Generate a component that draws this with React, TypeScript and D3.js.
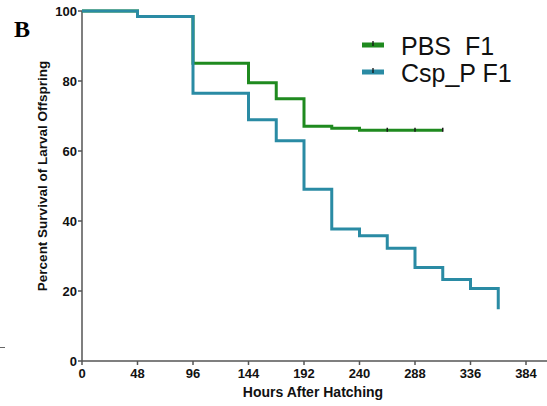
import React from "react";
import * as d3 from "d3";

const xTicks = [0, 48, 96, 144, 192, 240, 288, 336, 384];
const yTicks = [0, 20, 40, 60, 80, 100];

const cspTimes = [0, 48, 96, 144, 168, 192, 216, 240, 264, 288, 312, 336, 360];
const cspSurv = [100, 98.4, 76.5, 68.9, 62.9, 49.1, 37.7, 35.8, 32.2, 26.7, 23.3, 20.7, 14.8];

const pbsTimes = [0, 48, 96, 144, 168, 192, 216, 240];
const pbsSurv = [100, 98.4, 85.1, 79.5, 74.9, 67.1, 66.5, 65.9];
const pbsEnd = 312;
const pbsCensor = [264, 288, 312];

const seriesNames = ["PBS\u00a0\u00a0F1", "Csp_P F1"];
const seriesColors = ["#1f8a1f", "#2a8ba4"];

const W = 547;
const H = 406;

export default function App() {
  const x = d3.scaleLinear().domain([0, 384]).range([82, 526]);
  const y = d3.scaleLinear().domain([0, 100]).range([361, 11]);

  const stepPts = (times: number[], surv: number[], end: number | null) => {
    const pts: [number, number][] = times.map((t, i) => [t, surv[i]]);
    if (end !== null) pts.push([end, surv[surv.length - 1]]);
    return pts;
  };
  const line = d3
    .line<[number, number]>()
    .x((d) => x(d[0]))
    .y((d) => y(d[1]))
    .curve(d3.curveStepAfter);

  const pbsPath = line(stepPts(pbsTimes, pbsSurv, pbsEnd)) || "";
  const cspPath = line(stepPts(cspTimes, cspSurv, null)) || "";

  const font = "'Liberation Sans', Arial, sans-serif";
  const axisColor = "#555";

  return (
    <svg width={W} height={H} style={{ position: "absolute", left: 0, top: 0, background: "#fff" }}>
      <rect x={0} y={0} width={W} height={H} fill="#fff" />
      <text x={14} y={37} fontFamily="'Liberation Serif', 'Times New Roman', serif" fontWeight="bold" fontSize={24}>
        B
      </text>
      <line x1={0} x2={5} y1={347.5} y2={347.5} stroke="#666" strokeWidth={1} />

      {/* axes */}
      <line x1={x(0)} x2={x(0)} y1={y(100)} y2={y(0)} stroke={axisColor} strokeWidth={1.5} />
      <line x1={x(0)} x2={W} y1={y(0)} y2={y(0)} stroke={axisColor} strokeWidth={1.5} />
      {yTicks.map((t) => (
        <g key={"y" + t}>
          <line x1={x(0) - 4} x2={x(0)} y1={y(t)} y2={y(t)} stroke={axisColor} strokeWidth={1.5} />
          <text
            x={x(0) - 5}
            y={y(t)}
            dy="0.35em"
            textAnchor="end"
            fontFamily={font}
            fontWeight="bold"
            fontSize={13}
            fill="#111"
          >
            {t}
          </text>
        </g>
      ))}
      {xTicks.map((t) => (
        <g key={"x" + t}>
          <line x1={x(t)} x2={x(t)} y1={y(0)} y2={y(0) + 4} stroke={axisColor} strokeWidth={1.5} />
          <text
            x={x(t)}
            y={y(0) + 17}
            textAnchor="middle"
            fontFamily={font}
            fontWeight="bold"
            fontSize={13}
            fill="#111"
          >
            {t}
          </text>
        </g>
      ))}
      <text x={313} y={397} textAnchor="middle" fontFamily={font} fontWeight="bold" fontSize={14} fill="#111">
        Hours After Hatching
      </text>
      <text
        transform="translate(47,176) rotate(-90)"
        textAnchor="middle"
        fontFamily={font}
        fontWeight="bold"
        fontSize={13.5}
        fill="#111"
      >
        Percent Survival of Larval Offspring
      </text>

      {/* curves */}
      <path d={pbsPath} fill="none" stroke={seriesColors[0]} strokeWidth={3} />
      {pbsCensor.map((t) => (
        <line
          key={"c" + t}
          x1={x(t)}
          x2={x(t)}
          y1={y(pbsSurv[pbsSurv.length - 1]) - 2.5}
          y2={y(pbsSurv[pbsSurv.length - 1]) + 1.5}
          stroke="#1a1a1a"
          strokeWidth={1.5}
        />
      ))}
      <path d={cspPath} fill="none" stroke={seriesColors[1]} strokeWidth={3} />

      {/* legend */}
      {seriesNames.map((n, i) => (
        <g key={n}>
          <rect x={362} y={42.5 + i * 27} width={22} height={5} fill={seriesColors[i]} />
          <line x1={373} x2={373} y1={41 + i * 27} y2={46 + i * 27} stroke="#111" strokeWidth={1.3} />
          <text x={401} y={55 + i * 27} fontFamily={font} fontSize={25} fill="#111">
            {n}
          </text>
        </g>
      ))}
    </svg>
  );
}
